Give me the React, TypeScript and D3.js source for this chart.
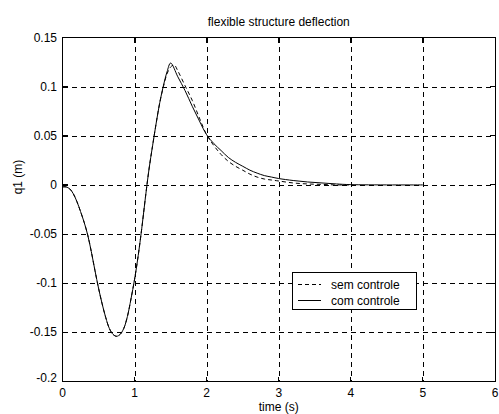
import React from "react";
import * as d3 from "d3";

// Time samples (s) and deflection q1 (m) for each run
const timeCom = [0, 0.05, 0.1, 0.15, 0.2, 0.25, 0.3, 0.35, 0.4, 0.45, 0.5, 0.55, 0.6, 0.65, 0.7, 0.75, 0.8, 0.85, 0.9, 0.95, 1.0, 1.05, 1.1, 1.15, 1.2, 1.25, 1.3, 1.35, 1.4, 1.45, 1.5, 1.6, 1.7, 1.8, 1.9, 2.0, 2.1, 2.2, 2.3, 2.4, 2.5, 2.6, 2.7, 2.8, 2.9, 3.0, 3.2, 3.4, 3.6, 3.8, 4.0, 5.0];
const comControle = [-0.002, -0.002, -0.004, -0.009, -0.017, -0.027, -0.038, -0.051, -0.068, -0.087, -0.105, -0.121, -0.135, -0.146, -0.152, -0.154, -0.152, -0.146, -0.134, -0.116, -0.096, -0.072, -0.044, -0.013, 0.016, 0.040, 0.063, 0.084, 0.101, 0.115, 0.124, 0.110, 0.096, 0.080, 0.065, 0.051, 0.042, 0.035, 0.028, 0.023, 0.019, 0.015, 0.012, 0.0095, 0.008, 0.0065, 0.0045, 0.003, 0.002, 0.001, 0.0003, 0.0];

const timeSem = [0, 0.05, 0.1, 0.15, 0.2, 0.25, 0.3, 0.35, 0.4, 0.45, 0.5, 0.55, 0.6, 0.65, 0.7, 0.75, 0.8, 0.85, 0.9, 0.95, 1.0, 1.05, 1.1, 1.15, 1.2, 1.25, 1.3, 1.35, 1.4, 1.45, 1.5, 1.55, 1.6, 1.7, 1.8, 1.9, 2.0, 2.1, 2.2, 2.3, 2.4, 2.5, 2.6, 2.7, 2.8, 2.9, 3.0, 3.2, 3.4, 3.6, 3.8, 4.0];
const semControle = [-0.002, -0.002, -0.004, -0.009, -0.017, -0.027, -0.038, -0.051, -0.068, -0.087, -0.105, -0.121, -0.135, -0.146, -0.152, -0.154, -0.152, -0.146, -0.134, -0.116, -0.096, -0.072, -0.044, -0.013, 0.016, 0.040, 0.063, 0.084, 0.100, 0.113, 0.120, 0.122, 0.116, 0.101, 0.086, 0.068, 0.051, 0.040, 0.031, 0.024, 0.019, 0.015, 0.011, 0.008, 0.006, 0.005, 0.004, 0.002, 0.001, 0.0005, 0.0, 0.0];

const xTicks = [0, 1, 2, 3, 4, 5, 6];
const xTickLabels = ["0", "1", "2", "3", "4", "5", "6"];
const yTicks = [0.15, 0.1, 0.05, 0, -0.05, -0.1, -0.15, -0.2];
const yTickLabels = ["0.15", "0.1", "0.05", "0", "-0.05", "-0.1", "-0.15", "-0.2"];

const legendLabels = ["sem controle", "com controle"];
const titleText = "flexible structure deflection";
const xLabelText = "time (s)";
const yLabelText = "q1 (m)";

const W = 499;
const H = 414;
const left = 62.5;
const right = 495;
const top = 37.5;
const bottom = 381.5;
const font = "'Liberation Sans', Arial, sans-serif";
const tickLen = 5;

export default function App() {
  const x = d3.scaleLinear().domain([0, 6]).range([left, right]);
  const y = d3.scaleLinear().domain([-0.2, 0.15]).range([bottom, top]);

  const line = d3
    .line<[number, number]>()
    .x((d) => x(d[0]))
    .y((d) => y(d[1]))
    .curve(d3.curveCatmullRom.alpha(0.5));

  const comPts = timeCom.map((t, i) => [t, comControle[i]] as [number, number]);
  const semPts = timeSem.map((t, i) => [t, semControle[i]] as [number, number]);

  const cx = (left + right) / 2;

  return (
    <svg
      width={W}
      height={H}
      style={{ position: "absolute", left: 0, top: 0, background: "#fff" }}
      fontFamily={font}
      fontSize={12}
    >
      <rect x={0} y={0} width={W} height={H} fill="#fff" />

      {/* grid */}
      <g stroke="#000" strokeWidth={1} strokeDasharray="5,4" shapeRendering="crispEdges">
        {xTicks.slice(1, -1).map((t) => (
          <line key={"gx" + t} x1={Math.round(x(t)) + 0.5} x2={Math.round(x(t)) + 0.5} y1={top} y2={bottom} />
        ))}
        {yTicks.slice(1, -1).map((t) => (
          <line key={"gy" + t} x1={left} x2={right} y1={Math.round(y(t)) + 0.5} y2={Math.round(y(t)) + 0.5} />
        ))}
      </g>

      {/* series */}
      <path d={line(semPts) || ""} fill="none" stroke="#000" strokeWidth={1} strokeDasharray="4,3" />
      <path d={line(comPts) || ""} fill="none" stroke="#000" strokeWidth={1} />

      {/* axes box and ticks */}
      <g stroke="#000" strokeWidth={1} shapeRendering="crispEdges" fill="none">
        <rect x={left} y={top} width={right - left} height={bottom - top} />
        {xTicks.map((t) => (
          <g key={"tx" + t}>
            <line x1={x(t)} x2={x(t)} y1={bottom} y2={bottom - tickLen} />
            <line x1={x(t)} x2={x(t)} y1={top} y2={top + tickLen} />
          </g>
        ))}
        {yTicks.map((t) => (
          <g key={"ty" + t}>
            <line x1={left} x2={left + tickLen} y1={y(t)} y2={y(t)} />
            <line x1={right} x2={right - tickLen} y1={y(t)} y2={y(t)} />
          </g>
        ))}
      </g>

      {/* tick labels */}
      <g fill="#000">
        {xTicks.map((t, i) => (
          <text key={"lx" + t} x={x(t)} y={397} textAnchor="middle">
            {xTickLabels[i]}
          </text>
        ))}
        {yTicks.map((t, i) => (
          <text
            key={"ly" + t}
            x={57}
            y={i === yTicks.length - 1 ? y(t) : y(t) + 4}
            textAnchor="end"
          >
            {yTickLabels[i]}
          </text>
        ))}
      </g>

      {/* title and axis labels */}
      <text x={cx} y={26} textAnchor="middle" fill="#000">
        {titleText}
      </text>
      <text x={cx} y={410.5} textAnchor="middle" fill="#000">
        {xLabelText}
      </text>
      <text transform={`translate(22,177) rotate(-90)`} textAnchor="middle" fill="#000">
        {yLabelText}
      </text>

      {/* legend */}
      <g>
        <rect x={292.5} y={272.5} width={124} height={37} fill="#fff" stroke="#000" strokeWidth={1} shapeRendering="crispEdges" />
        <line x1={298} x2={321} y1={284.5} y2={284.5} stroke="#000" strokeDasharray="4,3" shapeRendering="crispEdges" />
        <line x1={298} x2={321} y1={300.5} y2={300.5} stroke="#000" shapeRendering="crispEdges" />
        <text x={331} y={288.5} fill="#000">{legendLabels[0]}</text>
        <text x={331} y={304.5} fill="#000">{legendLabels[1]}</text>
      </g>
    </svg>
  );
}
